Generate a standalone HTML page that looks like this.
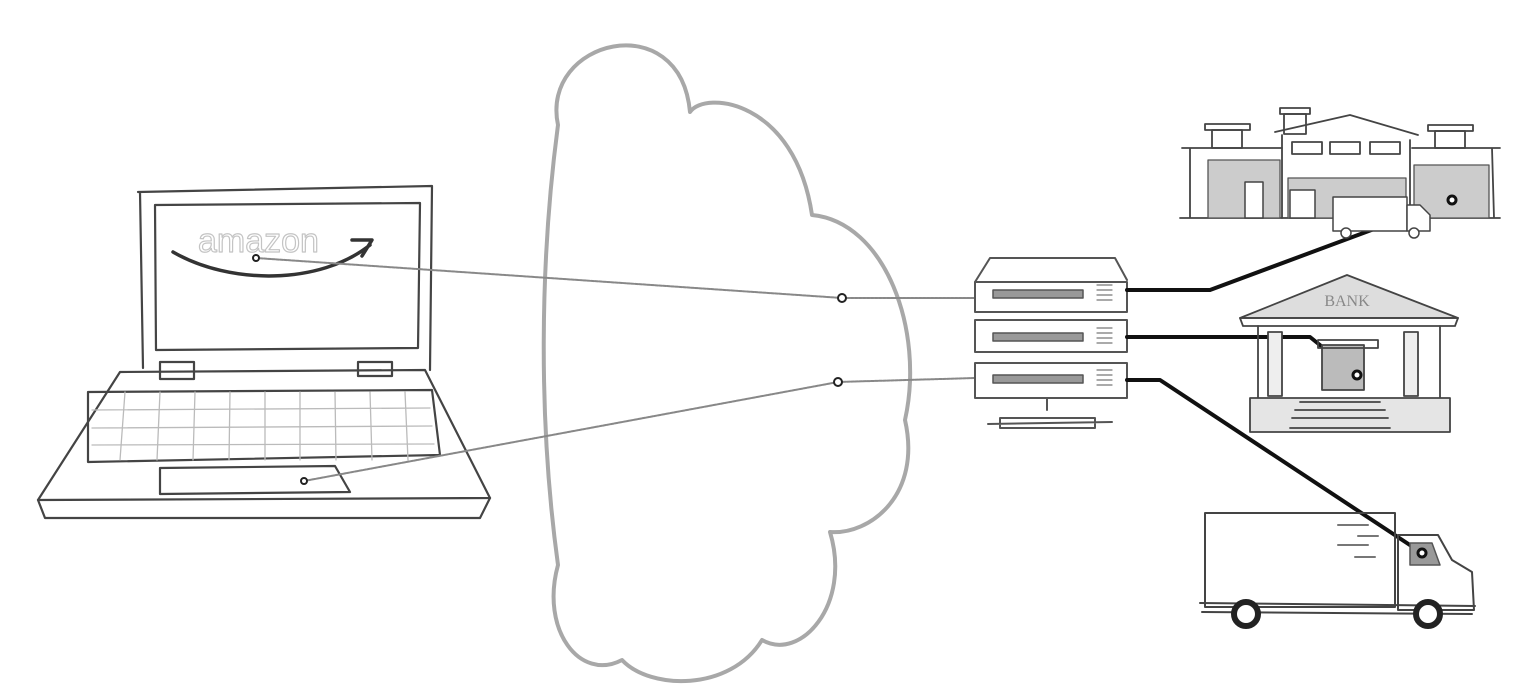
<!DOCTYPE html>
<html><head><meta charset="utf-8"><style>
html,body{margin:0;padding:0;background:#fff;width:1536px;height:700px;overflow:hidden}
svg{display:block}
</style></head><body>
<svg width="1536" height="700" viewBox="0 0 1536 700" xmlns="http://www.w3.org/2000/svg" font-family="Liberation Sans, sans-serif">
<g fill="none" stroke-linecap="round" stroke-linejoin="round">
<!-- cloud -->
<path d="M558,125 C540,40 680,5 690,112 C705,90 795,100 812,215 C885,222 925,330 905,420 C922,495 870,535 830,532 C852,605 800,662 762,640 C730,692 650,690 622,660 C580,682 540,630 558,565 C538,420 540,260 558,125 Z" stroke="#a8a8a8" stroke-width="4"/>
<!-- laptop -->
<g stroke="#444" stroke-width="2.2">
<path d="M138,192 L432,186 L430,370 M140,192 L143,368"/>
<path d="M155,205 L420,203 L418,348 L156,350 Z"/>
<path d="M120,372 L425,370 L490,498 L38,500 Z"/>
<path d="M38,500 L45,518 L480,518 L490,498"/>
<path d="M88,392 L432,390 L440,455 L88,462 Z"/>
<path d="M160,468 L335,466 L350,492 L160,494 Z"/>
<rect x="160" y="362" width="34" height="17"/><rect x="358" y="362" width="34" height="14"/>
</g>
<g stroke="#bbb" stroke-width="1.3">
<path d="M92,410 L430,408 M92,428 L432,426 M92,445 L434,444"/>
<path d="M125,392 L120,460 M160,392 L157,460 M195,392 L193,460 M230,392 L229,460 M265,392 L265,460 M300,392 L300,460 M335,392 L336,460 M370,392 L372,460 M405,392 L408,460"/>
</g>
<text x="198" y="252" font-size="34" fill="none" stroke="#c4c4c4" stroke-width="1.2">amazon</text>
<path d="M173,252 C230,285 320,285 370,245 M352,240 L372,240 L362,256" stroke="#333" stroke-width="3.5"/>
<!-- grey connectors -->
<g stroke="#888" stroke-width="2" stroke-dasharray="3 1">
<path d="M256,258 L842,298 L975,298"/>
<path d="M304,481 L838,382 L975,378"/>
</g>
<g stroke="#222" stroke-width="2" fill="#fff">
<circle cx="256" cy="258" r="3"/><circle cx="304" cy="481" r="3"/>
<circle cx="842" cy="298" r="4"/><circle cx="838" cy="382" r="4"/>
</g>
<!-- server -->
<g stroke="#555" stroke-width="2">
<path d="M975,282 L990,258 L1115,258 L1127,280"/>
<rect x="975" y="282" width="152" height="30"/>
<rect x="975" y="320" width="152" height="32"/>
<rect x="975" y="363" width="152" height="35"/>
<path d="M1047,398 L1047,410 M988,424 L1112,422 M1000,418 L1095,418 L1095,428 L1000,428 Z"/>
</g>
<g fill="#999" stroke="#555" stroke-width="1.5">
<rect x="993" y="290" width="90" height="8"/><rect x="993" y="333" width="90" height="8"/><rect x="993" y="375" width="90" height="8"/>
</g>
<g stroke="#777" stroke-width="1.2">
<path d="M1097,285 h15 M1097,290 h15 M1097,295 h15 M1097,300 h15 M1097,328 h15 M1097,333 h15 M1097,338 h15 M1097,343 h15 M1097,370 h15 M1097,375 h15 M1097,380 h15 M1097,385 h15"/>
</g>
<!-- black connectors -->
<g stroke="#111" stroke-width="4">
<path d="M1127,290 L1210,290 L1452,200"/>
<path d="M1127,337 L1310,337 L1357,375"/>
<path d="M1127,380 L1160,380 L1422,553"/>
</g>
<!-- warehouse -->
<g stroke="#444" stroke-width="1.8">
<path d="M1182,148 L1282,148 M1412,148 L1500,148 M1190,148 L1190,218 M1492,148 L1494,218 M1180,218 L1500,218"/>
<path d="M1275,132 L1350,115 L1418,135 M1282,135 L1282,218 M1410,140 L1410,218"/>
<rect x="1205" y="124" width="45" height="6"/><rect x="1212" y="130" width="30" height="18"/>
<rect x="1280" y="108" width="30" height="6"/><rect x="1284" y="114" width="22" height="20"/>
<rect x="1428" y="125" width="45" height="6"/><rect x="1435" y="131" width="30" height="17"/>
<path d="M1292,142 h30 v12 h-30 z M1330,142 h30 v12 h-30 z M1370,142 h30 v12 h-30 z"/>
</g>
<g fill="#ccc" stroke="#555" stroke-width="1.3">
<rect x="1208" y="160" width="72" height="58"/><rect x="1288" y="178" width="118" height="40"/><rect x="1414" y="165" width="75" height="53"/>
</g>
<g fill="#fff" stroke="#444" stroke-width="1.5">
<rect x="1333" y="197" width="74" height="34"/><path d="M1407,205 L1420,205 L1430,215 L1430,231 L1407,231 Z"/>
<circle cx="1346" cy="233" r="5"/><circle cx="1414" cy="233" r="5"/>
<rect x="1245" y="182" width="18" height="36"/><rect x="1290" y="190" width="25" height="28"/>
</g>
<!-- bank -->
<g stroke="#444" stroke-width="1.8">
<path d="M1240,318 L1347,275 L1458,318 Z" fill="#ddd"/>
<path d="M1240,318 L1458,318 L1455,326 L1243,326 Z"/>
<path d="M1258,326 L1258,400 M1440,326 L1440,400"/>
<rect x="1268" y="332" width="14" height="64" fill="#eee"/><rect x="1404" y="332" width="14" height="64" fill="#eee"/>
<rect x="1322" y="345" width="42" height="45" fill="#bbb"/>
<path d="M1318,340 h60 v8 h-60 z"/>
<rect x="1250" y="398" width="200" height="34" fill="#e5e5e5"/>
<path d="M1300,402 h80 M1295,410 h90 M1292,418 h96 M1290,428 h100"/>
</g>
<text x="1347" y="306" font-size="16" font-family="Liberation Serif, serif" text-anchor="middle" fill="#888">BANK</text>
<!-- truck -->
<g stroke="#444" stroke-width="2">
<path d="M1205,513 L1395,513 L1395,607 L1205,607 Z"/>
<path d="M1398,535 L1438,535 L1452,560 L1472,572 L1474,610 L1398,610 Z"/>
<path d="M1200,603 L1475,606 M1202,612 L1472,614"/>
<path d="M1338,525 h30 M1358,536 h20 M1338,545 h30 M1355,557 h20" stroke="#777"/>
</g>
<path d="M1410,543 L1432,543 L1440,565 L1410,565 Z" fill="#999" stroke="#555" stroke-width="1.5"/>
<g stroke="#222" stroke-width="6" fill="#fff">
<circle cx="1246" cy="614" r="12"/><circle cx="1428" cy="614" r="12"/>
</g>
<!-- endpoint dots -->
<g stroke="#111" stroke-width="3" fill="#fff">
<circle cx="1452" cy="200" r="4"/><circle cx="1357" cy="375" r="4"/><circle cx="1422" cy="553" r="4"/>
</g>
</g>
</svg>
</body></html>
